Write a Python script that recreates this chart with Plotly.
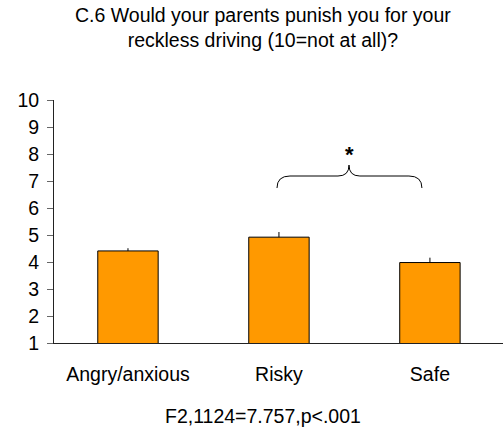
import plotly.graph_objects as go

categories = ["Angry/anxious", "Risky", "Safe"]
means = [4.41, 4.92, 3.98]
errors = [0.10, 0.19, 0.18]
y_ticks = [1, 2, 3, 4, 5, 6, 7, 8, 9, 10]
title_text = "C.6 Would your parents punish you for your<br>reckless driving (10=not at all)?"
stat_text = "F2,1124=7.757,p<.001"

FONT = "Liberation Sans, Arial, sans-serif"
FS = 19.5
xs = list(range(len(categories)))

fig = go.Figure()
fig.add_trace(go.Bar(
    x=xs, y=means, width=0.4,
    marker=dict(color="#FF9900", line=dict(color="black", width=1)),
    error_y=dict(type="data", symmetric=False, array=errors,
                 arrayminus=[0] * len(errors), color="black",
                 thickness=1, width=0),
    showlegend=False,
))

# brace between Risky and Safe
x0, x1 = 0.987, 1.947
xm = 1.464
xa, xb = 1.073, 1.391
xc, xd = 1.536, 1.861
y0, yh, yp = 6.74, 7.185, 7.59
path = (f"M {x0},{y0} Q {x0},{yh} {xa},{yh} L {xb},{yh} "
        f"Q {xm},{yh} {xm},{yp} Q {xm},{yh} {xc},{yh} L {xd},{yh} "
        f"Q {x1},{yh} {x1},{y0}")
fig.add_shape(type="path", path=path, xref="x", yref="y",
              line=dict(color="black", width=1))
fig.add_annotation(x=xm, y=7.45, text="<b>*</b>", showarrow=False,
                   xref="x", yref="y", yanchor="bottom",
                   font=dict(family=FONT, size=22, color="black"))

fig.add_annotation(x=0.465, y=1.0, xref="paper", yref="paper", yshift=98,
                   text=title_text, showarrow=False, yanchor="top",
                   font=dict(family=FONT, size=FS, color="black"))
fig.add_annotation(x=0.465, y=0, xref="paper", yref="paper", yshift=-60,
                   text=stat_text, showarrow=False, yanchor="top",
                   font=dict(family=FONT, size=FS, color="black"))

fig.update_layout(
    width=503, height=428,
    margin=dict(l=54, r=0, t=100, b=85, autoexpand=False),
    paper_bgcolor="white", plot_bgcolor="white",
    font=dict(family=FONT, size=FS, color="black"),
    bargap=0.6,
)
fig.update_xaxes(
    range=[-0.49, 2.484], tickmode="array", tickvals=xs, ticktext=categories,
    showline=True, linecolor="#222222", linewidth=1, ticks="",
    showgrid=False, zeroline=False, ticklabelstandoff=14, automargin=False,
    tickfont=dict(family=FONT, size=FS),
)
fig.update_yaxes(
    range=[1, 10], tickmode="array", tickvals=y_ticks,
    showline=True, linecolor="#222222", linewidth=1,
    ticks="outside", ticklen=6, tickcolor="#666666", tickwidth=1,
    showgrid=False, zeroline=False, ticklabelstandoff=4, automargin=False,
    tickfont=dict(family=FONT, size=FS),
)

fig.write_html(
    "out.html",
    config={"displayModeBar": False},
    post_script="document.body.style.margin='0';document.body.style.overflow='hidden';",
)
